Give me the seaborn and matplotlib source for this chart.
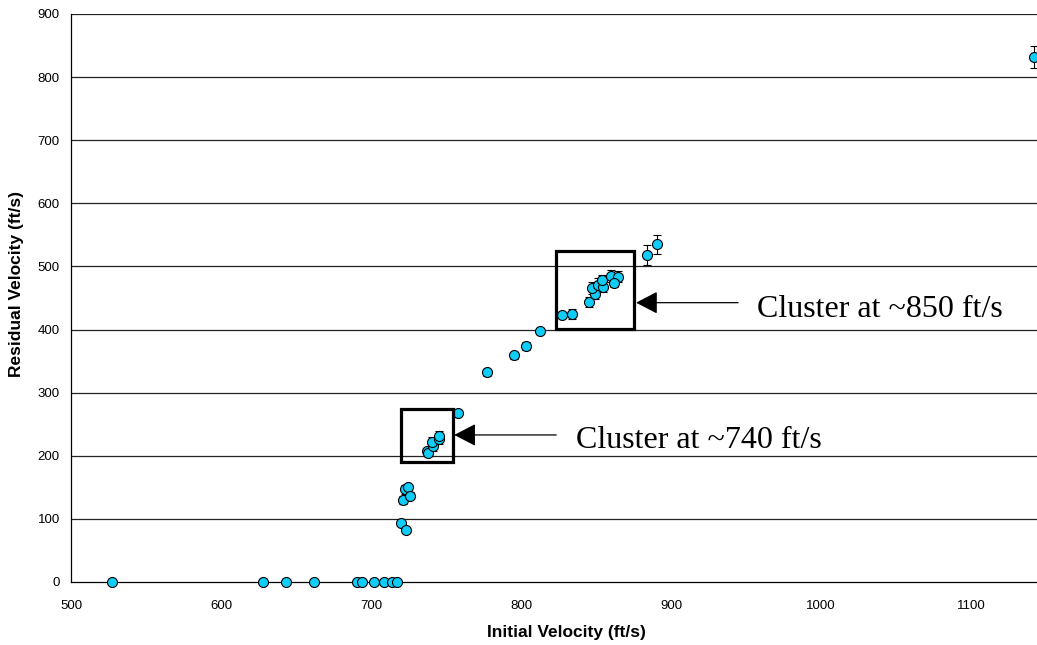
import matplotlib
matplotlib.use("Agg")
import matplotlib.pyplot as plt
import seaborn as sns
import pandas as pd
from matplotlib.patches import Rectangle

# ---- data ----
initial_velocity = [527.6, 628.0, 643.5, 661.7, 690.7, 694.3, 702.2, 708.8, 714.1, 717.2,
                    719.8, 723.3, 721.5, 722.7, 724.9, 726.0,
                    737.1, 738.2, 741.5, 740.5, 745.1, 745.1,
                    758.2, 777.1, 795.6, 803.3, 812.7, 827.1, 834.0,
                    845.5, 849.3, 847.6, 851.1, 854.4, 853.8, 860.0, 864.9, 862.2,
                    883.8, 890.9, 1142.0]
residual_velocity = [0, 0, 0, 0, 0, 0, 0, 0, 0, 0,
                     93, 82, 130, 147, 150, 137,
                     208, 205, 215, 222, 226, 232,
                     267, 332, 359, 374, 398, 423, 425,
                     444, 456, 466, 471, 468, 478, 485, 484, 473,
                     518, 535, 832]
residual_error = [0, 0, 0, 0, 0, 0, 0, 0, 0, 0,
                  3, 3, 7, 7, 5, 5,
                  5, 5, 7, 8, 7, 7,
                  4, 6, 5, 6, 5, 5, 8,
                  8, 8, 9, 10, 8, 9, 10, 8, 6,
                  16, 15, 17]

x_ticks = [500, 600, 700, 800, 900, 1000, 1100]
y_ticks = [0, 100, 200, 300, 400, 500, 600, 700, 800, 900]

cluster_labels = ["Cluster at ~740 ft/s", "Cluster at ~850 ft/s"]
cluster_boxes = [(719.8, 190.2, 754.5, 273.7), (823.3, 400.5, 875.5, 525.0)]
arrow_tips = [(755.5, 233.0), (876.7, 442.6)]
arrow_tails = [(823.5, 233.0), (944.7, 442.6)]
text_pos = [(836.7, 225.0), (957.1, 432.0)]

df = pd.DataFrame({"Initial Velocity": initial_velocity,
                   "Residual Velocity": residual_velocity,
                   "err": residual_error})

sns.set_style("white")
plt.rcParams["font.family"] = ["Liberation Sans", "DejaVu Sans"]
plt.rcParams["text.color"] = "black"
plt.rcParams["axes.labelcolor"] = "black"
plt.rcParams["xtick.color"] = "black"
plt.rcParams["ytick.color"] = "black"

fig = plt.figure(figsize=(10.37, 6.45), dpi=100)
ax = fig.add_axes([71 / 1037, 63 / 645, 966 / 1037, 568 / 645])

ax.set_xlim(500, 500 + 966 / 1.5)
ax.set_ylim(0, 900)

for yv in y_ticks[1:]:
    ax.axhline(yv, color="#222222", lw=0.9, zorder=1)

ax.errorbar(df["Initial Velocity"], df["Residual Velocity"], yerr=df["err"],
            fmt="none", ecolor="black", elinewidth=0.8, capsize=2.9, capthick=0.8,
            zorder=2)
sns.scatterplot(data=df, x="Initial Velocity", y="Residual Velocity", ax=ax,
                s=52, color="#10CCF8", edgecolor="black", linewidth=0.8,
                zorder=3, clip_on=False, legend=False)

for (x0, y0, x1, y1) in cluster_boxes:
    ax.add_patch(Rectangle((x0, y0), x1 - x0, y1 - y0, fill=False,
                           edgecolor="black", lw=2.3, zorder=4))
for tip, tail in zip(arrow_tips, arrow_tails):
    ax.annotate("", xy=tip, xytext=tail,
                arrowprops=dict(arrowstyle="-|>,head_length=1.35,head_width=0.7",
                                mutation_scale=10, lw=0.9, color="black",
                                shrinkA=0, shrinkB=0), zorder=5)
for (tx, ty), label in zip(text_pos, cluster_labels):
    ax.text(tx, ty, label, fontsize=23, family=["Liberation Serif", "DejaVu Serif"],
            ha="left", va="center", color="black", zorder=5)

ax.set_xticks(x_ticks)
ax.set_yticks(y_ticks)
ax.tick_params(axis="both", direction="out", length=4, width=0.8, color="black",
               labelcolor="black", labelsize=9.5, pad=4)
ax.tick_params(axis="x", pad=9)
for side in ["top", "right"]:
    ax.spines[side].set_visible(False)
for side in ["left", "bottom"]:
    ax.spines[side].set_color("black")
    ax.spines[side].set_linewidth(0.9)

ax.set_xlabel("Initial Velocity (ft/s)", fontsize=12.5, fontweight="bold", color="black")
ax.set_ylabel("Residual Velocity (ft/s)", fontsize=12.5, fontweight="bold", color="black")
ax.xaxis.set_label_coords((566 - 71) / 966, -(633 - 582) / 568)
ax.yaxis.set_label_coords(-(71 - 17) / 966, (582 - 284.5) / 568)
ax.xaxis.label.set_va("center")
ax.yaxis.label.set_va("center")

fig.savefig("out.png", dpi=100)
